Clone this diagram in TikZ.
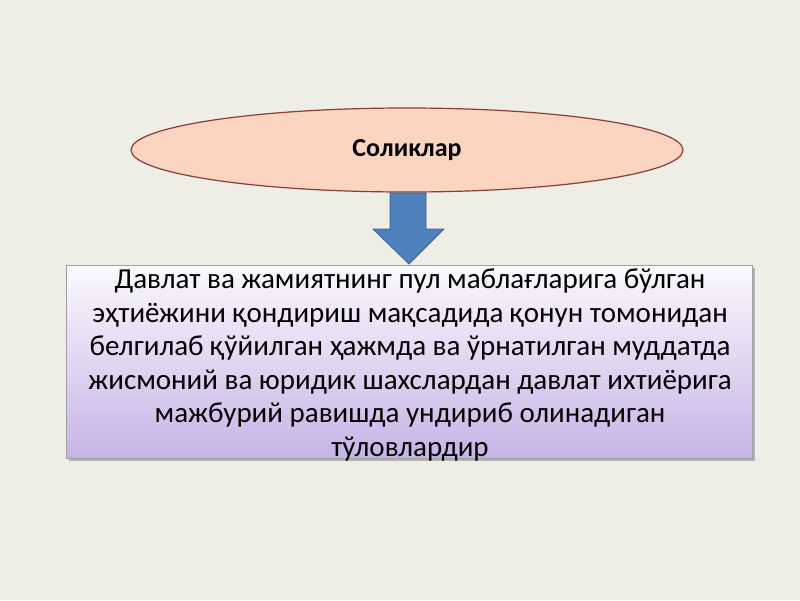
\documentclass[tikz,border=0pt]{standalone}
\usepackage{fontspec}
\setmainfont{Carlito}
\usetikzlibrary{shapes.geometric,shadows}
\definecolor{bg}{HTML}{EFEEE6}
\definecolor{ellfill}{HTML}{FBD5C0}
\definecolor{elldraw}{HTML}{8C3A3A}
\definecolor{arrfill}{HTML}{4F81BD}
\definecolor{arrdraw}{HTML}{3A6296}
\definecolor{boxtop}{HTML}{FBF9FE}
\definecolor{boxbot}{HTML}{C6B4E6}
\definecolor{boxdraw}{HTML}{A0A0A8}
\tikzset{
  topoval/.style={ellipse, draw=elldraw, line width=1.2pt, fill=ellfill, minimum width=552pt, minimum height=84pt, inner sep=0pt, font=\fontsize{26}{30}\selectfont\bfseries},
  defbox/.style={draw=boxdraw, line width=0.8pt, top color=boxtop, bottom color=boxbot, minimum width=686pt, minimum height=193pt, inner sep=0pt, drop shadow={shadow xshift=3pt, shadow yshift=-3pt, fill=black!45, opacity=0.6}},
  deftext/.style={align=center, font=\fontsize{29}{33.5}\selectfont, inner sep=0pt}
}
\begin{document}
\begin{tikzpicture}[x=1pt,y=-1pt]
\fill[bg] (0,0) rectangle (800,600);
\useasboundingbox (0,0) rectangle (800,600);
\node[topoval] (oval) at (407,150) {Соликлар};
\node[defbox] (box) at (409,361.5) {};
\coordinate (tip) at (409,264);
\draw[arrdraw, fill=arrfill, line width=0.8pt, line join=round]
  (390,193) -- (426,193) -- (426,229) -- (444,229) -- (tip) -- (373,229) -- (390,229) -- cycle;
\node[deftext] (txt) at (410,365) {Давлат ва жамиятнинг пул маблағларига бўлган\\эҳтиёжини қондириш мақсадида қонун томонидан\\белгилаб қўйилган ҳажмда ва ўрнатилган муддатда\\жисмоний ва юридик шахслардан давлат ихтиёрига\\мажбурий равишда ундириб олинадиган\\тўловлардир};
\end{tikzpicture}
\end{document}
